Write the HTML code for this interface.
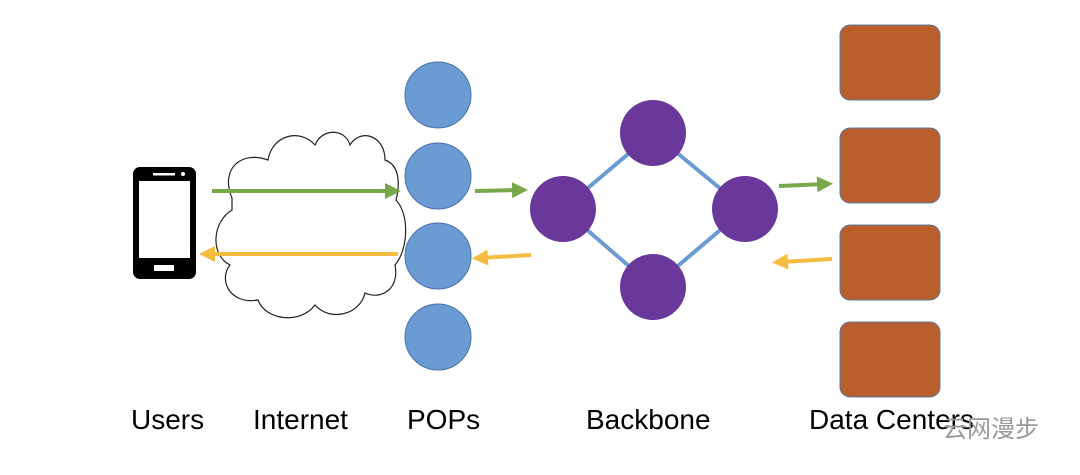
<!DOCTYPE html>
<html><head><meta charset="utf-8"><style>
html,body{margin:0;padding:0;background:#fff;}
svg{display:block;}
text{font-family:"Liberation Sans",sans-serif;font-size:28px;fill:#000;}
</style></head><body>
<svg width="1080" height="475" viewBox="0 0 1080 475" xmlns="http://www.w3.org/2000/svg">
<defs>
<marker id="g" markerWidth="4" markerHeight="4" refX="2" refY="2" orient="auto" markerUnits="strokeWidth"><path d="M0,0 L4,2 L0,4 z" fill="#77a84a"/></marker>
<marker id="y" markerWidth="4" markerHeight="4" refX="2" refY="2" orient="auto" markerUnits="strokeWidth"><path d="M0,0 L4,2 L0,4 z" fill="#f5bd3f"/></marker>
</defs>
<rect x="133" y="167" width="63" height="112" rx="7" fill="#000"/>
<rect x="139" y="181" width="51" height="77" fill="#fff"/>
<rect x="153" y="173" width="22" height="2.5" fill="#fff"/>
<circle cx="183" cy="174" r="2" fill="#fff"/>
<rect x="154" y="265" width="20" height="6" fill="#fff"/>
<path d="M232,198 C220,170 240,150 268,160 C272,135 300,128 315,145 C322,128 345,128 350,145 C360,128 385,135 385,160 C400,165 400,185 396,200 C410,215 408,250 395,265 C400,290 380,300 365,293 C360,315 330,322 315,305 C300,325 265,320 258,300 C230,305 218,280 230,265 C210,255 212,222 232,210 Z" fill="#fff" stroke="#222" stroke-width="1.2"/>
<g fill="#6a9bd2" stroke="#4a72a8" stroke-width="1">
<circle cx="438" cy="95" r="33"/><circle cx="438" cy="176" r="33"/>
<circle cx="438" cy="256" r="33"/><circle cx="438" cy="337" r="33"/>
</g>
<g stroke="#6a9bd2" stroke-width="4">
<line x1="653" y1="133" x2="563" y2="209"/><line x1="653" y1="133" x2="745" y2="209"/>
<line x1="563" y1="209" x2="653" y2="287"/><line x1="745" y1="209" x2="653" y2="287"/>
</g>
<g fill="#69389a">
<circle cx="653" cy="133" r="33"/><circle cx="563" cy="209" r="33"/>
<circle cx="745" cy="209" r="33"/><circle cx="653" cy="287" r="33"/>
</g>
<g fill="#b85f2b" stroke="#5a7ba8" stroke-width="1">
<rect x="840" y="25" width="100" height="75" rx="10"/>
<rect x="840" y="128" width="100" height="75" rx="10"/>
<rect x="840" y="225" width="100" height="75" rx="10"/>
<rect x="840" y="322" width="100" height="75" rx="10"/>
</g>
<g stroke-width="4" fill="none">
<line x1="212" y1="191" x2="393" y2="191" stroke="#77a84a" marker-end="url(#g)"/>
<line x1="475" y1="191" x2="520" y2="190" stroke="#77a84a" marker-end="url(#g)"/>
<line x1="779" y1="186" x2="825" y2="184" stroke="#77a84a" marker-end="url(#g)"/>
<line x1="398" y1="254" x2="207" y2="254" stroke="#f5bd3f" marker-end="url(#y)"/>
<line x1="531" y1="255" x2="480" y2="258" stroke="#f5bd3f" marker-end="url(#y)"/>
<line x1="832" y1="259" x2="780" y2="262" stroke="#f5bd3f" marker-end="url(#y)"/>
</g>
<text x="131" y="429">Users</text>
<text x="253" y="429">Internet</text>
<text x="407" y="429">POPs</text>
<text x="586" y="429">Backbone</text>
<text x="809" y="429">Data Centers</text>
<text x="943" y="437" style="font-family:'Liberation Sans','Noto Sans CJK SC',sans-serif;font-size:24px;fill:#999">云网漫步</text>
</svg>
</body></html>
